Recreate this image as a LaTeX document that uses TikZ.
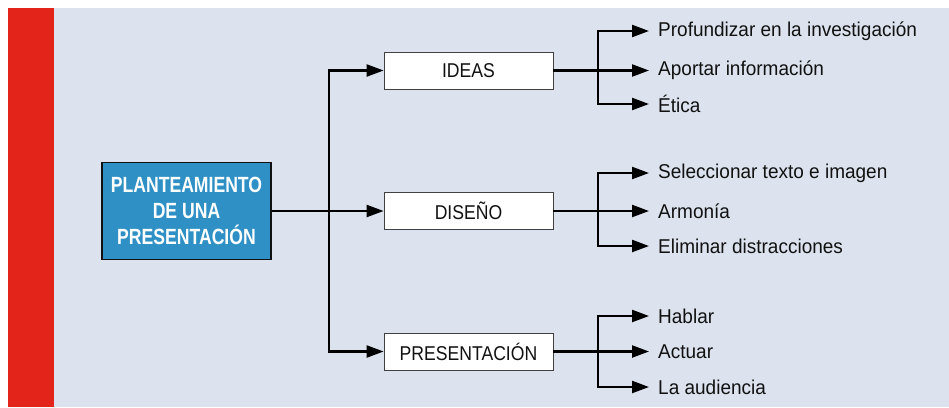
\documentclass[tikz,border=0pt]{standalone}
\usepackage{fontspec}
\setmainfont[FakeStretch=0.88]{Liberation Sans}
\newfontfamily\leaffont[FakeStretch=0.95]{Liberation Sans}
\newfontfamily\mainfont[FakeStretch=0.80]{Liberation Sans}
\usetikzlibrary{arrows.meta}
\definecolor{bgblue}{HTML}{DCE3EE}
\definecolor{barred}{HTML}{E3241A}
\definecolor{mainblue}{HTML}{2E90C5}
\definecolor{ink}{HTML}{111111}
\tikzset{
  mainbox/.style={draw=ink, line width=1.2pt, fill=mainblue, text=white,
    font=\mainfont\fontsize{22}{26}\selectfont\bfseries, align=center,
    minimum width=169pt, minimum height=97pt, inner sep=0pt},
  catbox/.style={draw=ink!80, line width=0.8pt, fill=white, text=ink,
    font=\fontsize{20}{24}\selectfont, minimum width=169pt, minimum height=37pt, inner sep=0pt},
  leaf/.style={anchor=west, inner xsep=9pt, inner ysep=0pt, text=ink,
    font=\leaffont\fontsize{20}{24}\selectfont},
  conn/.style={draw=black, line width=2.3pt},
  arr/.style={conn, -{Triangle[length=17pt, width=12pt]}}
}
\begin{document}
\begin{tikzpicture}[x=1pt, y=-1pt]
\useasboundingbox (0,0) rectangle (949,407);
\fill[bgblue] (8,8) rectangle (949,407);
\fill[barred] (8,8) rectangle (54,407);

\node[mainbox] (main) at (186.5,211) {PLANTEAMIENTO\\DE UNA\\PRESENTACIÓN};
\coordinate (split) at (329,211);

\node[catbox] (ideas) at (468.5,70.5) {IDEAS};
\node[catbox] (diseno) at (468.5,211) {DISEÑO};
\node[catbox] (pres) at (468.5,351.5) {PRESENTACIÓN};

\draw[conn] (main.east) -- (split);
\draw[arr] (split) |- (ideas.west);
\draw[arr] (split) -- (diseno.west);
\draw[arr] (split) |- (pres.west);

% IDEAS branch
\coordinate (bi) at (598,70.5);
\node[leaf] (i1) at (649,31) {Profundizar en la investigación};
\node[leaf] (i2) at (649,70.5) {Aportar información};
\node[leaf] (i3) at (649,104) {Ética};
\draw[conn] (ideas.east) -- (bi);
\draw[arr] (bi) |- (i1.west);
\draw[arr] (bi) -- (i2.west);
\draw[arr] (bi) |- (i3.west);

% DISEÑO branch
\coordinate (bd) at (598,211);
\node[leaf] (d1) at (649,173) {Seleccionar texto e imagen};
\node[leaf] (d2) at (649,211) {Armonía};
\node[leaf] (d3) at (649,246) {Eliminar distracciones};
\draw[conn] (diseno.east) -- (bd);
\draw[arr] (bd) |- (d1.west);
\draw[arr] (bd) -- (d2.west);
\draw[arr] (bd) |- (d3.west);

% PRESENTACIÓN branch
\coordinate (bp) at (598,351.5);
\node[leaf] (p1) at (649,316) {Hablar};
\node[leaf] (p2) at (649,351.5) {Actuar};
\node[leaf] (p3) at (649,387) {La audiencia};
\draw[conn] (pres.east) -- (bp);
\draw[arr] (bp) |- (p1.west);
\draw[arr] (bp) -- (p2.west);
\draw[arr] (bp) |- (p3.west);
\end{tikzpicture}
\end{document}
